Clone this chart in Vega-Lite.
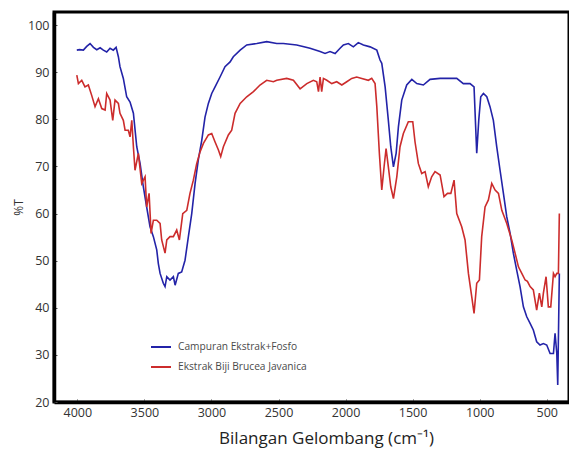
{
"$schema": "https://vega.github.io/schema/vega-lite/v6.json",
"width": 515, "height": 390,
"autosize": {"type": "none"},
"padding": {"left": 54, "top": 12, "right": 0, "bottom": 48},
"background": "white",
"config": {"view": {"stroke": "black", "strokeWidth": 3}, "font": "Open Sans"},
"data": {"values": [
{"s":"Campuran Ekstrak+Fosfo","x":4004,"y":94.7},{"s":"Campuran Ekstrak+Fosfo","x":3984,"y":94.8},{"s":"Campuran Ekstrak+Fosfo","x":3955,"y":94.7},{"s":"Campuran Ekstrak+Fosfo","x":3930,"y":95.5},{"s":"Campuran Ekstrak+Fosfo","x":3905,"y":96.1},{"s":"Campuran Ekstrak+Fosfo","x":3880,"y":95.3},{"s":"Campuran Ekstrak+Fosfo","x":3855,"y":94.8},{"s":"Campuran Ekstrak+Fosfo","x":3830,"y":95.2},{"s":"Campuran Ekstrak+Fosfo","x":3806,"y":94.7},{"s":"Campuran Ekstrak+Fosfo","x":3781,"y":94.3},{"s":"Campuran Ekstrak+Fosfo","x":3756,"y":95.1},{"s":"Campuran Ekstrak+Fosfo","x":3732,"y":94.7},{"s":"Campuran Ekstrak+Fosfo","x":3711,"y":95.3},{"s":"Campuran Ekstrak+Fosfo","x":3694,"y":93.3},{"s":"Campuran Ekstrak+Fosfo","x":3682,"y":91.2},{"s":"Campuran Ekstrak+Fosfo","x":3657,"y":88.7},{"s":"Campuran Ekstrak+Fosfo","x":3632,"y":84.8},{"s":"Campuran Ekstrak+Fosfo","x":3607,"y":83.7},{"s":"Campuran Ekstrak+Fosfo","x":3582,"y":81.3},{"s":"Campuran Ekstrak+Fosfo","x":3557,"y":74.2},{"s":"Campuran Ekstrak+Fosfo","x":3532,"y":70.6},{"s":"Campuran Ekstrak+Fosfo","x":3508,"y":65.7},{"s":"Campuran Ekstrak+Fosfo","x":3483,"y":61.4},{"s":"Campuran Ekstrak+Fosfo","x":3458,"y":57.2},{"s":"Campuran Ekstrak+Fosfo","x":3433,"y":55.1},{"s":"Campuran Ekstrak+Fosfo","x":3408,"y":52.3},{"s":"Campuran Ekstrak+Fosfo","x":3396,"y":49.4},{"s":"Campuran Ekstrak+Fosfo","x":3383,"y":47.3},{"s":"Campuran Ekstrak+Fosfo","x":3359,"y":45.2},{"s":"Campuran Ekstrak+Fosfo","x":3346,"y":44.5},{"s":"Campuran Ekstrak+Fosfo","x":3333,"y":46.6},{"s":"Campuran Ekstrak+Fosfo","x":3309,"y":45.9},{"s":"Campuran Ekstrak+Fosfo","x":3284,"y":46.6},{"s":"Campuran Ekstrak+Fosfo","x":3271,"y":44.8},{"s":"Campuran Ekstrak+Fosfo","x":3247,"y":47.3},{"s":"Campuran Ekstrak+Fosfo","x":3222,"y":47.6},{"s":"Campuran Ekstrak+Fosfo","x":3197,"y":50.1},{"s":"Campuran Ekstrak+Fosfo","x":3172,"y":55.1},{"s":"Campuran Ekstrak+Fosfo","x":3147,"y":60.0},{"s":"Campuran Ekstrak+Fosfo","x":3122,"y":66.4},{"s":"Campuran Ekstrak+Fosfo","x":3098,"y":71.4},{"s":"Campuran Ekstrak+Fosfo","x":3072,"y":75.6},{"s":"Campuran Ekstrak+Fosfo","x":3048,"y":80.5},{"s":"Campuran Ekstrak+Fosfo","x":3023,"y":83.4},{"s":"Campuran Ekstrak+Fosfo","x":2998,"y":85.5},{"s":"Campuran Ekstrak+Fosfo","x":2973,"y":86.9},{"s":"Campuran Ekstrak+Fosfo","x":2936,"y":89.0},{"s":"Campuran Ekstrak+Fosfo","x":2899,"y":91.2},{"s":"Campuran Ekstrak+Fosfo","x":2861,"y":92.2},{"s":"Campuran Ekstrak+Fosfo","x":2837,"y":93.3},{"s":"Campuran Ekstrak+Fosfo","x":2786,"y":94.7},{"s":"Campuran Ekstrak+Fosfo","x":2737,"y":95.8},{"s":"Campuran Ekstrak+Fosfo","x":2662,"y":96.1},{"s":"Campuran Ekstrak+Fosfo","x":2588,"y":96.5},{"s":"Campuran Ekstrak+Fosfo","x":2513,"y":96.1},{"s":"Campuran Ekstrak+Fosfo","x":2464,"y":96.1},{"s":"Campuran Ekstrak+Fosfo","x":2364,"y":95.8},{"s":"Campuran Ekstrak+Fosfo","x":2265,"y":95.1},{"s":"Campuran Ekstrak+Fosfo","x":2190,"y":94.4},{"s":"Campuran Ekstrak+Fosfo","x":2153,"y":94.0},{"s":"Campuran Ekstrak+Fosfo","x":2116,"y":94.4},{"s":"Campuran Ekstrak+Fosfo","x":2078,"y":94.0},{"s":"Campuran Ekstrak+Fosfo","x":2041,"y":95.1},{"s":"Campuran Ekstrak+Fosfo","x":2016,"y":95.8},{"s":"Campuran Ekstrak+Fosfo","x":1979,"y":96.1},{"s":"Campuran Ekstrak+Fosfo","x":1942,"y":95.4},{"s":"Campuran Ekstrak+Fosfo","x":1905,"y":96.3},{"s":"Campuran Ekstrak+Fosfo","x":1867,"y":95.8},{"s":"Campuran Ekstrak+Fosfo","x":1817,"y":95.4},{"s":"Campuran Ekstrak+Fosfo","x":1767,"y":94.7},{"s":"Campuran Ekstrak+Fosfo","x":1743,"y":92.6},{"s":"Campuran Ekstrak+Fosfo","x":1730,"y":91.9},{"s":"Campuran Ekstrak+Fosfo","x":1705,"y":86.9},{"s":"Campuran Ekstrak+Fosfo","x":1681,"y":79.8},{"s":"Campuran Ekstrak+Fosfo","x":1663,"y":74.2},{"s":"Campuran Ekstrak+Fosfo","x":1643,"y":69.9},{"s":"Campuran Ekstrak+Fosfo","x":1623,"y":72.8},{"s":"Campuran Ekstrak+Fosfo","x":1606,"y":78.4},{"s":"Campuran Ekstrak+Fosfo","x":1581,"y":84.1},{"s":"Campuran Ekstrak+Fosfo","x":1544,"y":87.3},{"s":"Campuran Ekstrak+Fosfo","x":1506,"y":88.5},{"s":"Campuran Ekstrak+Fosfo","x":1469,"y":87.6},{"s":"Campuran Ekstrak+Fosfo","x":1420,"y":87.3},{"s":"Campuran Ekstrak+Fosfo","x":1370,"y":88.5},{"s":"Campuran Ekstrak+Fosfo","x":1295,"y":88.7},{"s":"Campuran Ekstrak+Fosfo","x":1221,"y":88.7},{"s":"Campuran Ekstrak+Fosfo","x":1171,"y":88.7},{"s":"Campuran Ekstrak+Fosfo","x":1122,"y":87.6},{"s":"Campuran Ekstrak+Fosfo","x":1072,"y":87.6},{"s":"Campuran Ekstrak+Fosfo","x":1042,"y":86.9},{"s":"Campuran Ekstrak+Fosfo","x":1022,"y":72.8},{"s":"Campuran Ekstrak+Fosfo","x":1007,"y":79.8},{"s":"Campuran Ekstrak+Fosfo","x":992,"y":84.8},{"s":"Campuran Ekstrak+Fosfo","x":972,"y":85.5},{"s":"Campuran Ekstrak+Fosfo","x":947,"y":84.8},{"s":"Campuran Ekstrak+Fosfo","x":923,"y":82.7},{"s":"Campuran Ekstrak+Fosfo","x":898,"y":79.8},{"s":"Campuran Ekstrak+Fosfo","x":873,"y":74.2},{"s":"Campuran Ekstrak+Fosfo","x":848,"y":69.2},{"s":"Campuran Ekstrak+Fosfo","x":823,"y":64.3},{"s":"Campuran Ekstrak+Fosfo","x":798,"y":59.3},{"s":"Campuran Ekstrak+Fosfo","x":773,"y":55.8},{"s":"Campuran Ekstrak+Fosfo","x":749,"y":51.6},{"s":"Campuran Ekstrak+Fosfo","x":724,"y":48.0},{"s":"Campuran Ekstrak+Fosfo","x":699,"y":44.5},{"s":"Campuran Ekstrak+Fosfo","x":674,"y":40.2},{"s":"Campuran Ekstrak+Fosfo","x":649,"y":38.1},{"s":"Campuran Ekstrak+Fosfo","x":624,"y":36.7},{"s":"Campuran Ekstrak+Fosfo","x":600,"y":35.3},{"s":"Campuran Ekstrak+Fosfo","x":575,"y":32.8},{"s":"Campuran Ekstrak+Fosfo","x":550,"y":32.1},{"s":"Campuran Ekstrak+Fosfo","x":525,"y":32.4},{"s":"Campuran Ekstrak+Fosfo","x":500,"y":32.1},{"s":"Campuran Ekstrak+Fosfo","x":475,"y":30.3},{"s":"Campuran Ekstrak+Fosfo","x":450,"y":30.3},{"s":"Campuran Ekstrak+Fosfo","x":438,"y":34.6},{"s":"Campuran Ekstrak+Fosfo","x":425,"y":30.3},{"s":"Campuran Ekstrak+Fosfo","x":418,"y":23.6},{"s":"Campuran Ekstrak+Fosfo","x":406,"y":47.3},
{"s":"Ekstrak Biji Brucea Javanica","x":4004,"y":89.4},{"s":"Ekstrak Biji Brucea Javanica","x":3992,"y":87.6},{"s":"Ekstrak Biji Brucea Javanica","x":3967,"y":88.3},{"s":"Ekstrak Biji Brucea Javanica","x":3943,"y":86.9},{"s":"Ekstrak Biji Brucea Javanica","x":3918,"y":87.3},{"s":"Ekstrak Biji Brucea Javanica","x":3893,"y":85.1},{"s":"Ekstrak Biji Brucea Javanica","x":3868,"y":82.7},{"s":"Ekstrak Biji Brucea Javanica","x":3843,"y":84.4},{"s":"Ekstrak Biji Brucea Javanica","x":3818,"y":82.3},{"s":"Ekstrak Biji Brucea Javanica","x":3793,"y":82.0},{"s":"Ekstrak Biji Brucea Javanica","x":3781,"y":85.5},{"s":"Ekstrak Biji Brucea Javanica","x":3756,"y":84.1},{"s":"Ekstrak Biji Brucea Javanica","x":3736,"y":79.8},{"s":"Ekstrak Biji Brucea Javanica","x":3719,"y":84.1},{"s":"Ekstrak Biji Brucea Javanica","x":3694,"y":83.4},{"s":"Ekstrak Biji Brucea Javanica","x":3682,"y":81.3},{"s":"Ekstrak Biji Brucea Javanica","x":3657,"y":79.8},{"s":"Ekstrak Biji Brucea Javanica","x":3644,"y":77.7},{"s":"Ekstrak Biji Brucea Javanica","x":3620,"y":77.7},{"s":"Ekstrak Biji Brucea Javanica","x":3607,"y":76.3},{"s":"Ekstrak Biji Brucea Javanica","x":3594,"y":79.8},{"s":"Ekstrak Biji Brucea Javanica","x":3582,"y":74.2},{"s":"Ekstrak Biji Brucea Javanica","x":3570,"y":69.2},{"s":"Ekstrak Biji Brucea Javanica","x":3545,"y":72.8},{"s":"Ekstrak Biji Brucea Javanica","x":3520,"y":66.4},{"s":"Ekstrak Biji Brucea Javanica","x":3495,"y":67.8},{"s":"Ekstrak Biji Brucea Javanica","x":3483,"y":61.4},{"s":"Ekstrak Biji Brucea Javanica","x":3465,"y":64.3},{"s":"Ekstrak Biji Brucea Javanica","x":3450,"y":55.8},{"s":"Ekstrak Biji Brucea Javanica","x":3433,"y":58.6},{"s":"Ekstrak Biji Brucea Javanica","x":3408,"y":58.6},{"s":"Ekstrak Biji Brucea Javanica","x":3383,"y":57.9},{"s":"Ekstrak Biji Brucea Javanica","x":3371,"y":54.4},{"s":"Ekstrak Biji Brucea Javanica","x":3346,"y":51.6},{"s":"Ekstrak Biji Brucea Javanica","x":3333,"y":54.4},{"s":"Ekstrak Biji Brucea Javanica","x":3309,"y":55.1},{"s":"Ekstrak Biji Brucea Javanica","x":3284,"y":55.1},{"s":"Ekstrak Biji Brucea Javanica","x":3259,"y":56.5},{"s":"Ekstrak Biji Brucea Javanica","x":3239,"y":54.4},{"s":"Ekstrak Biji Brucea Javanica","x":3214,"y":60.0},{"s":"Ekstrak Biji Brucea Javanica","x":3184,"y":60.7},{"s":"Ekstrak Biji Brucea Javanica","x":3160,"y":64.3},{"s":"Ekstrak Biji Brucea Javanica","x":3135,"y":67.1},{"s":"Ekstrak Biji Brucea Javanica","x":3110,"y":70.6},{"s":"Ekstrak Biji Brucea Javanica","x":3085,"y":73.1},{"s":"Ekstrak Biji Brucea Javanica","x":3060,"y":74.9},{"s":"Ekstrak Biji Brucea Javanica","x":3023,"y":76.7},{"s":"Ekstrak Biji Brucea Javanica","x":2998,"y":77.0},{"s":"Ekstrak Biji Brucea Javanica","x":2973,"y":75.2},{"s":"Ekstrak Biji Brucea Javanica","x":2948,"y":73.5},{"s":"Ekstrak Biji Brucea Javanica","x":2931,"y":72.1},{"s":"Ekstrak Biji Brucea Javanica","x":2911,"y":74.2},{"s":"Ekstrak Biji Brucea Javanica","x":2874,"y":76.7},{"s":"Ekstrak Biji Brucea Javanica","x":2849,"y":77.7},{"s":"Ekstrak Biji Brucea Javanica","x":2824,"y":81.3},{"s":"Ekstrak Biji Brucea Javanica","x":2786,"y":83.4},{"s":"Ekstrak Biji Brucea Javanica","x":2737,"y":84.8},{"s":"Ekstrak Biji Brucea Javanica","x":2687,"y":85.9},{"s":"Ekstrak Biji Brucea Javanica","x":2638,"y":87.3},{"s":"Ekstrak Biji Brucea Javanica","x":2588,"y":88.3},{"s":"Ekstrak Biji Brucea Javanica","x":2538,"y":88.0},{"s":"Ekstrak Biji Brucea Javanica","x":2513,"y":88.3},{"s":"Ekstrak Biji Brucea Javanica","x":2439,"y":88.7},{"s":"Ekstrak Biji Brucea Javanica","x":2389,"y":88.3},{"s":"Ekstrak Biji Brucea Javanica","x":2339,"y":86.5},{"s":"Ekstrak Biji Brucea Javanica","x":2289,"y":87.6},{"s":"Ekstrak Biji Brucea Javanica","x":2240,"y":88.3},{"s":"Ekstrak Biji Brucea Javanica","x":2215,"y":88.0},{"s":"Ekstrak Biji Brucea Javanica","x":2202,"y":85.9},{"s":"Ekstrak Biji Brucea Javanica","x":2190,"y":89.0},{"s":"Ekstrak Biji Brucea Javanica","x":2178,"y":85.9},{"s":"Ekstrak Biji Brucea Javanica","x":2165,"y":88.7},{"s":"Ekstrak Biji Brucea Javanica","x":2140,"y":88.3},{"s":"Ekstrak Biji Brucea Javanica","x":2103,"y":87.6},{"s":"Ekstrak Biji Brucea Javanica","x":2066,"y":88.0},{"s":"Ekstrak Biji Brucea Javanica","x":2028,"y":87.3},{"s":"Ekstrak Biji Brucea Javanica","x":1991,"y":88.0},{"s":"Ekstrak Biji Brucea Javanica","x":1954,"y":88.7},{"s":"Ekstrak Biji Brucea Javanica","x":1917,"y":89.0},{"s":"Ekstrak Biji Brucea Javanica","x":1879,"y":88.7},{"s":"Ekstrak Biji Brucea Javanica","x":1830,"y":88.3},{"s":"Ekstrak Biji Brucea Javanica","x":1805,"y":88.7},{"s":"Ekstrak Biji Brucea Javanica","x":1780,"y":87.6},{"s":"Ekstrak Biji Brucea Javanica","x":1767,"y":82.7},{"s":"Ekstrak Biji Brucea Javanica","x":1748,"y":72.8},{"s":"Ekstrak Biji Brucea Javanica","x":1730,"y":65.0},{"s":"Ekstrak Biji Brucea Javanica","x":1713,"y":69.9},{"s":"Ekstrak Biji Brucea Javanica","x":1698,"y":73.8},{"s":"Ekstrak Biji Brucea Javanica","x":1681,"y":69.9},{"s":"Ekstrak Biji Brucea Javanica","x":1663,"y":65.7},{"s":"Ekstrak Biji Brucea Javanica","x":1643,"y":63.2},{"s":"Ekstrak Biji Brucea Javanica","x":1618,"y":67.8},{"s":"Ekstrak Biji Brucea Javanica","x":1594,"y":74.2},{"s":"Ekstrak Biji Brucea Javanica","x":1569,"y":77.0},{"s":"Ekstrak Biji Brucea Javanica","x":1532,"y":79.5},{"s":"Ekstrak Biji Brucea Javanica","x":1499,"y":79.5},{"s":"Ekstrak Biji Brucea Javanica","x":1482,"y":75.2},{"s":"Ekstrak Biji Brucea Javanica","x":1457,"y":70.6},{"s":"Ekstrak Biji Brucea Javanica","x":1432,"y":68.5},{"s":"Ekstrak Biji Brucea Javanica","x":1407,"y":68.9},{"s":"Ekstrak Biji Brucea Javanica","x":1383,"y":65.7},{"s":"Ekstrak Biji Brucea Javanica","x":1358,"y":67.8},{"s":"Ekstrak Biji Brucea Javanica","x":1333,"y":68.9},{"s":"Ekstrak Biji Brucea Javanica","x":1295,"y":68.2},{"s":"Ekstrak Biji Brucea Javanica","x":1266,"y":63.6},{"s":"Ekstrak Biji Brucea Javanica","x":1240,"y":64.3},{"s":"Ekstrak Biji Brucea Javanica","x":1215,"y":64.3},{"s":"Ekstrak Biji Brucea Javanica","x":1191,"y":67.1},{"s":"Ekstrak Biji Brucea Javanica","x":1171,"y":60.0},{"s":"Ekstrak Biji Brucea Javanica","x":1134,"y":57.2},{"s":"Ekstrak Biji Brucea Javanica","x":1109,"y":54.4},{"s":"Ekstrak Biji Brucea Javanica","x":1084,"y":47.3},{"s":"Ekstrak Biji Brucea Javanica","x":1059,"y":42.3},{"s":"Ekstrak Biji Brucea Javanica","x":1042,"y":38.8},{"s":"Ekstrak Biji Brucea Javanica","x":1022,"y":45.2},{"s":"Ekstrak Biji Brucea Javanica","x":1002,"y":45.9},{"s":"Ekstrak Biji Brucea Javanica","x":985,"y":55.1},{"s":"Ekstrak Biji Brucea Javanica","x":960,"y":61.4},{"s":"Ekstrak Biji Brucea Javanica","x":935,"y":62.9},{"s":"Ekstrak Biji Brucea Javanica","x":910,"y":66.4},{"s":"Ekstrak Biji Brucea Javanica","x":885,"y":65.0},{"s":"Ekstrak Biji Brucea Javanica","x":860,"y":64.3},{"s":"Ekstrak Biji Brucea Javanica","x":835,"y":60.7},{"s":"Ekstrak Biji Brucea Javanica","x":798,"y":57.9},{"s":"Ekstrak Biji Brucea Javanica","x":761,"y":54.4},{"s":"Ekstrak Biji Brucea Javanica","x":736,"y":51.6},{"s":"Ekstrak Biji Brucea Javanica","x":711,"y":48.7},{"s":"Ekstrak Biji Brucea Javanica","x":686,"y":47.3},{"s":"Ekstrak Biji Brucea Javanica","x":661,"y":45.9},{"s":"Ekstrak Biji Brucea Javanica","x":644,"y":45.6},{"s":"Ekstrak Biji Brucea Javanica","x":624,"y":44.5},{"s":"Ekstrak Biji Brucea Javanica","x":600,"y":43.8},{"s":"Ekstrak Biji Brucea Javanica","x":575,"y":39.5},{"s":"Ekstrak Biji Brucea Javanica","x":555,"y":43.1},{"s":"Ekstrak Biji Brucea Javanica","x":537,"y":40.2},{"s":"Ekstrak Biji Brucea Javanica","x":525,"y":43.1},{"s":"Ekstrak Biji Brucea Javanica","x":505,"y":46.6},{"s":"Ekstrak Biji Brucea Javanica","x":488,"y":40.2},{"s":"Ekstrak Biji Brucea Javanica","x":470,"y":40.2},{"s":"Ekstrak Biji Brucea Javanica","x":450,"y":47.3},{"s":"Ekstrak Biji Brucea Javanica","x":438,"y":46.6},{"s":"Ekstrak Biji Brucea Javanica","x":425,"y":47.3},{"s":"Ekstrak Biji Brucea Javanica","x":413,"y":47.3},{"s":"Ekstrak Biji Brucea Javanica","x":406,"y":60.0}
]},
"mark": {"type": "line", "strokeWidth": 1.6, "clip": true, "interpolate": "linear"},
"encoding": {
"x": {"field": "x", "type": "quantitative",
"scale": {"domain": [4174, 334], "nice": false, "zero": false},
"axis": {"values": [4000, 3500, 3000, 2500, 2000, 1500, 1000, 500], "format": "d", "title": "Bilangan Gelombang (cm⁻¹)", "grid": false,
"domainColor": "black", "domainWidth": 3.5, "tickColor": "#555", "tickSize": -3, "tickWidth": 1,
"labelFont": "Open Sans", "labelFontSize": 12.5, "labelColor": "#333", "labelPadding": 7,
"titleFont": "Open Sans", "titleFontSize": 17, "titleFontWeight": "normal", "titleColor": "#222",
"titleX": 272, "titleY": 28, "titleAlign": "center", "titleBaseline": "top"}},
"y": {"field": "y", "type": "quantitative",
"scale": {"domain": [20, 102.8], "nice": false, "zero": false},
"axis": {"values": [20, 30, 40, 50, 60, 70, 80, 90, 100], "format": "d", "title": "%T", "grid": false,
"domainColor": "black", "domainWidth": 3.5, "tickColor": "#555", "tickSize": -3, "tickWidth": 1,
"labelFont": "Open Sans", "labelFontSize": 12.5, "labelColor": "#333", "labelPadding": 8,
"titleFont": "Open Sans", "titleFontSize": 12, "titleFontWeight": "normal", "titleColor": "#333",
"titleX": -36, "titleY": 195, "titleAngle": 270, "titleAlign": "center", "titleBaseline": "middle"}},
"color": {"field": "s", "type": "nominal",
"scale": {"domain": ["Campuran Ekstrak+Fosfo", "Ekstrak Biji Brucea Javanica"], "range": ["#2323a8", "#cc2c2c"]},
"legend": {"title": null, "orient": "none", "legendX": 96, "legendY": 324, "padding": 0,
"symbolType": "stroke", "symbolSize": 400, "symbolStrokeWidth": 2, "rowPadding": 3,
"labelFont": "Open Sans", "labelFontSize": 10.2, "labelColor": "#4a4a4a", "labelOffset": 6}}
}
}
